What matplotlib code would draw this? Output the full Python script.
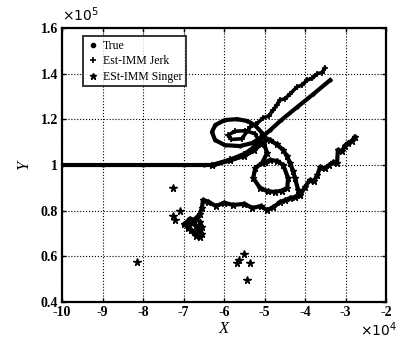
import numpy as np
import matplotlib.pyplot as plt
from matplotlib.lines import Line2D

plt.rcParams['font.family'] = ['Liberation Serif', 'DejaVu Serif']

# True trajectory (x in 1e4, y in 1e5)
true_x = [-10, -9, -8, -7, -6.5, -6.25, -5.85, -5.48, -5.23, -5.11, -5.06,
          -5.24, -5.43, -5.68, -5.98, -6.22, -6.30, -6.22, -5.98, -5.61, -5.31,
          -5.06, -4.86, -4.6, -4.2, -3.8, -3.38]
true_y = [1.0, 1.0, 1.0, 1.0, 1.0, 1.0, 1.02, 1.042, 1.068, 1.10, 1.14,
          1.175, 1.193, 1.201, 1.197, 1.175, 1.144, 1.109, 1.087, 1.083, 1.096,
          1.123, 1.153, 1.195, 1.253, 1.31, 1.372]

# Est-IMM Jerk
jerk_x = [-6.3, -5.85, -5.5, -5.27, -5.15, -5.24, -5.48, -5.74, -5.9, -5.82,
          -5.56, -5.36, -5.2, -5.04, -4.9, -4.79, -4.7, -4.62, -4.5, -4.38,
          -4.2, -4.08, -3.95, -3.82, -3.7, -3.58, -3.51]
jerk_y = [1.0, 1.025, 1.05, 1.078, 1.11, 1.138, 1.15, 1.148, 1.13, 1.112,
          1.115, 1.166, 1.18, 1.206, 1.215, 1.24, 1.262, 1.285, 1.29, 1.31,
          1.342, 1.35, 1.372, 1.38, 1.40, 1.405, 1.425]

# Est-IMM Singer (NaN separates the pieces of the drawn track)
singer_x = [-6.3, -5.85, -5.5, -5.25, -5.1, -5.02, -4.94, -5.06, -5.23, -5.28,
            -5.11, -4.92, -4.74, -4.58, -4.44, -4.42, -4.54, -4.7, -4.86, -4.98,
            np.nan,
            -5.0, -4.86, -4.7, -4.54, -4.45, -4.37, -4.3, -4.25, -4.17, -4.12,
            -4.0, -3.88, -3.78, -3.7, -3.63, -3.5, -3.4, -3.3, -3.21,
            -3.19, -3.08, -3.02, -2.95, -2.85, -2.77, np.nan,
            -4.12, -4.25, -4.37, -4.5, -4.62, -4.78, -4.94, -5.1, -5.3, -5.5,
            -5.78, -6.0, -6.2, -6.4, -6.52, -6.55, -6.6, -6.68, -6.75, -6.85,
            -6.95, -7.0, -6.9, -6.8, -6.7, -6.62, -6.55, -6.6, -6.7, -6.82,
            -6.9, -6.75, -6.62, -6.55, -6.6]
singer_y = [1.0, 1.022, 1.04, 1.065, 1.09, 1.1, 1.052, 1.009, 0.987, 0.943,
            0.899, 0.885, 0.882, 0.888, 0.899, 0.943, 1.0, 1.018, 1.022, 1.012,
            np.nan,
            1.12, 1.109, 1.09, 1.066, 1.04, 1.009, 0.975, 0.943, 0.89, 0.868,
            0.905, 0.934, 0.93, 0.955, 0.99, 0.985, 1.0, 1.012, 1.009,
            1.066, 1.06, 1.085, 1.095, 1.105, 1.123, np.nan,
            0.868, 0.86, 0.855, 0.845, 0.838, 0.815, 0.803, 0.82, 0.812, 0.83,
            0.825, 0.835, 0.82, 0.84, 0.847, 0.81, 0.785, 0.77, 0.76, 0.765,
            0.745, 0.74, 0.73, 0.745, 0.735, 0.72, 0.70, 0.685, 0.69, 0.715,
            0.725, 0.705, 0.71, 0.73, 0.75]

# isolated estimate points
scatter_x = [-7.26, -7.09, -7.2, -7.25, -8.15, -5.68, -5.62, -5.36, -5.43, -5.52]
scatter_y = [0.90, 0.80, 0.76, 0.775, 0.575, 0.571, 0.585, 0.571, 0.496, 0.61]

xticks = [-10, -9, -8, -7, -6, -5, -4, -3, -2]
yticks = [0.4, 0.6, 0.8, 1.0, 1.2, 1.4, 1.6]
ytick_labels = ['0.4', '0.6', '0.8', '1', '1.2', '1.4', '1.6']

fig = plt.figure(figsize=(3.98, 3.42), dpi=100)
ax = fig.add_axes([0.156, 0.117, 0.814, 0.801])

ax.plot(true_x, true_y, color='black', lw=3.0, marker='.', ms=4)
ax.plot(jerk_x, jerk_y, color='black', lw=2.6, marker='+', ms=4, mew=1.2)
ax.plot(singer_x, singer_y, color='black', lw=3.0, marker='*', ms=4.5)
ax.plot(scatter_x, scatter_y, color='black', ls='none', marker='*', ms=5.5)

ax.set_xlim(-10, -2)
ax.set_ylim(0.4, 1.6)
ax.set_xticks(xticks)
ax.set_xticklabels([str(t) for t in xticks])
ax.set_yticks(yticks)
ax.set_yticklabels(ytick_labels)
ax.grid(True, color='black', ls=':', lw=0.8)
ax.tick_params(direction='in', top=True, right=True, length=3, width=1,
               labelsize=10, pad=3)
for lab in ax.get_xticklabels() + ax.get_yticklabels():
    lab.set_fontweight('bold')
for s in ax.spines.values():
    s.set_linewidth(1.6)

ax.set_xlabel('X', fontstyle='italic', fontsize=12, labelpad=1)
ax.set_ylabel('Y', fontstyle='italic', fontsize=12, labelpad=6)
fig.text(0.156, 0.93, r'$\times10^5$', fontsize=10, ha='left', va='bottom')
fig.text(0.998, 0.008, r'$\times10^4$', fontsize=10, ha='right', va='bottom')

handles = [Line2D([], [], color='black', ls='none', marker='.', ms=6),
           Line2D([], [], color='black', ls='none', marker='+', ms=5, mew=1.2),
           Line2D([], [], color='black', ls='none', marker='*', ms=5)]
leg = ax.legend(handles, ['True', 'Est-IMM Jerk', 'ESt-IMM Singer'],
                loc='upper left', bbox_to_anchor=(0.065, 0.97), fontsize=8.5,
                frameon=True, fancybox=False, edgecolor='black',
                handlelength=1.0, handletextpad=0.4, borderpad=0.3,
                labelspacing=0.3, borderaxespad=0)
leg.get_frame().set_linewidth(1.4)

fig.savefig('out.png', dpi=100)
